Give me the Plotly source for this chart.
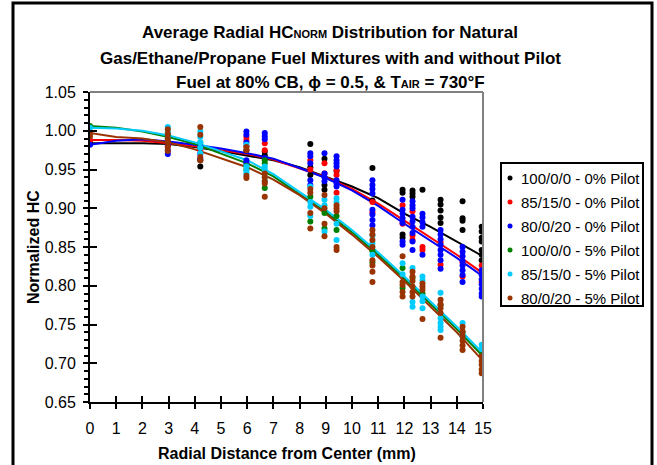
import plotly.graph_objects as go

# Radial measurement stations (mm from burner centre)
radial_mm = [0.0, 2.97, 4.21, 5.97, 6.67, 8.41, 8.95, 9.41, 10.78, 11.93, 12.31, 12.69, 13.38, 14.22, 14.95]

# Normalized HC samples at each station, one list per station
hc_100_0_0_p0 = [
    [0.984], [0.985], [0.954, 0.962], [0.975], [0.973, 0.968],
    [0.983, 0.953, 0.943], [0.964, 0.924, 0.930], [0.948], [0.952, 0.910],
    [0.924, 0.920, 0.866, 0.862], [0.923, 0.919, 0.915], [0.924],
    [0.911, 0.905, 0.897, 0.888, 0.881], [0.909, 0.887, 0.884, 0.872],
    [0.876, 0.870, 0.862, 0.857, 0.846, 0.840, 0.833],
]
hc_85_15_0_p0 = [
    [0.988], [0.985, 0.980], [0.975], [0.992, 0.988, 0.980], [0.984, 0.975],
    [0.962, 0.950], [0.958, 0.945], [0.949, 0.943, 0.920], [0.908, 0.895],
    [0.904, 0.880], [0.896, 0.859, 0.865], [0.850, 0.846],
    [0.856, 0.827], [0.830, 0.812], [0.826, 0.818, 0.805],
]
hc_80_0_20_p0 = [
    [0.982], [0.970, 0.975, 0.982], [0.964, 0.970, 0.980],
    [0.999, 0.995, 0.985, 0.962, 0.958], [0.997, 0.993, 0.989, 0.965],
    [0.971, 0.967, 0.958, 0.936, 0.930], [0.971, 0.945, 0.940, 0.935],
    [0.967, 0.962, 0.958, 0.954, 0.936, 0.932, 0.928],
    [0.936, 0.930, 0.925, 0.919, 0.898, 0.892, 0.885, 0.878],
    [0.911, 0.898, 0.893, 0.887, 0.881, 0.857, 0.853],
    [0.909, 0.904, 0.900, 0.889, 0.883, 0.876, 0.868, 0.857, 0.846],
    [0.893, 0.888, 0.882, 0.876, 0.840],
    [0.872, 0.866, 0.860, 0.853, 0.846, 0.840, 0.833, 0.822],
    [0.850, 0.844, 0.838, 0.832, 0.826, 0.820, 0.814, 0.805],
    [0.820, 0.814, 0.808, 0.802, 0.796, 0.790, 0.786],
]
hc_100_0_0_p5 = [
    [1.006], [0.995, 0.990], [0.985, 0.978], [0.955, 0.950], [0.962, 0.958, 0.926],
    [0.915, 0.883], [0.894, 0.874], [0.872, 0.890], [0.845, 0.830],
    [0.823, 0.797], [0.810], [0.790], [0.775], [0.740], [0.715],
]
hc_85_15_0_p5 = [
    [1.004], [1.005, 0.998, 0.990], [0.999, 0.992, 0.985, 0.978, 0.971],
    [0.982, 0.954, 0.948, 0.945], [0.954, 0.950, 0.940, 0.935],
    [0.928, 0.908, 0.902, 0.890], [0.911, 0.904, 0.870],
    [0.913, 0.908, 0.880, 0.859], [0.865, 0.855, 0.840],
    [0.829, 0.815], [0.823, 0.779, 0.773], [0.812, 0.807, 0.786, 0.780, 0.771],
    [0.791, 0.758, 0.752, 0.747, 0.743], [0.752, 0.735], [0.724, 0.718],
]
hc_80_0_20_p5 = [
    [0.997, 0.993], [1.002, 0.996, 0.990, 0.985, 0.979, 0.974],
    [1.005, 0.995, 0.966, 0.962], [0.979, 0.975, 0.942, 0.939],
    [0.945, 0.940, 0.935, 0.932, 0.915], [0.925, 0.920, 0.894, 0.874],
    [0.917, 0.900, 0.880, 0.864], [0.904, 0.900, 0.896, 0.850, 0.846],
    [0.872, 0.866, 0.859, 0.850, 0.833, 0.826, 0.818, 0.805],
    [0.838, 0.805, 0.801, 0.792, 0.786], [0.818, 0.812, 0.806, 0.799, 0.792, 0.786],
    [0.803, 0.799, 0.795, 0.757], [0.782, 0.776, 0.771, 0.765, 0.733],
    [0.747, 0.741, 0.735, 0.729, 0.723, 0.717], [0.709, 0.703, 0.698, 0.692, 0.687],
]

# Averaged radial profiles
avg_r = [0, 1, 2, 3, 4, 5, 6, 7, 8, 9, 10, 11, 12, 13, 14, 15]
avg_100_0_0_p0 = [0.984, 0.984, 0.984, 0.983, 0.979, 0.974, 0.968, 0.962, 0.953, 0.941, 0.928, 0.913, 0.893, 0.876, 0.857, 0.838]
avg_85_15_0_p0 = [0.988, 0.988, 0.987, 0.984, 0.980, 0.975, 0.970, 0.963, 0.952, 0.940, 0.925, 0.906, 0.884, 0.862, 0.840, 0.816]
avg_80_0_20_p0 = [0.982, 0.987, 0.989, 0.986, 0.982, 0.977, 0.971, 0.964, 0.952, 0.939, 0.923, 0.903, 0.880, 0.858, 0.836, 0.812]
avg_100_0_0_p5 = [1.006, 1.004, 0.999, 0.992, 0.983, 0.971, 0.958, 0.941, 0.918, 0.895, 0.869, 0.840, 0.809, 0.777, 0.744, 0.709]
avg_85_15_0_p5 = [1.004, 1.003, 1.000, 0.994, 0.985, 0.974, 0.962, 0.944, 0.921, 0.898, 0.872, 0.843, 0.812, 0.780, 0.747, 0.713]
avg_80_0_20_p5 = [0.997, 0.992, 0.990, 0.985, 0.976, 0.965, 0.953, 0.937, 0.917, 0.893, 0.866, 0.837, 0.806, 0.773, 0.740, 0.703]

labels = [
    "100/0/0 - 0% Pilot", "85/15/0 - 0% Pilot", "80/0/20 - 0% Pilot",
    "100/0/0 - 5% Pilot", "85/15/0 - 5% Pilot", "80/0/20 - 5% Pilot",
]
colors = ["#000000", "#FF0000", "#0000FF", "#008000", "#00CCFF", "#993300"]
samples = [hc_100_0_0_p0, hc_85_15_0_p0, hc_80_0_20_p0, hc_100_0_0_p5, hc_85_15_0_p5, hc_80_0_20_p5]
averages = [avg_100_0_0_p0, avg_85_15_0_p0, avg_80_0_20_p0, avg_100_0_0_p5, avg_85_15_0_p5, avg_80_0_20_p5]

FONT = "Arial, Liberation Sans, sans-serif"

# figure geometry (px)
W, H = 657, 465
ML, MR, MT, MB = 90, 174, 92, 63
PW, PH = W - ML - MR, H - MT - MB


def px_x(px):
    """horizontal pixel -> paper fraction"""
    return (px - ML) / PW


def px_y(py):
    """vertical pixel (from top) -> paper fraction"""
    return (H - MB - py) / PH


fig = go.Figure()

# average profile lines underneath the sample markers
for avg, col in zip(averages, colors):
    fig.add_trace(go.Scatter(
        x=avg_r, y=avg, mode="lines", line=dict(color=col, width=2),
        showlegend=False, hoverinfo="skip",
    ))

for name, col, per_station in zip(labels, colors, samples):
    xs, ys = [], []
    for r, vals in zip(radial_mm, per_station):
        xs += [r] * len(vals)
        ys += vals
    fig.add_trace(go.Scatter(
        x=xs, y=ys, mode="markers", name=name, showlegend=False,
        marker=dict(color=col, size=6, line=dict(width=0)),
    ))

# invisible helper trace so the inner tick marks get their own axes
fig.add_trace(go.Scatter(x=[None], y=[None], xaxis="x2", yaxis="y2", showlegend=False))

fig.update_layout(
    width=W, height=H,
    margin=dict(l=ML, r=MR, t=MT, b=MB, autoexpand=False),
    paper_bgcolor="white", plot_bgcolor="white",
    font=dict(family=FONT, size=16, color="black"),
    showlegend=False,
    xaxis=dict(
        range=[0, 15], dtick=1, tick0=0, showgrid=False, zeroline=False,
        showline=True, linecolor="black", linewidth=2,
        ticks="outside", ticklen=5, tickwidth=2, tickcolor="black",
        ticklabelstandoff=6,
        tickfont=dict(family=FONT, size=16, color="black"),
    ),
    yaxis=dict(
        range=[0.65, 1.05], dtick=0.05, tick0=0.65, tickformat=".2f",
        showgrid=False, zeroline=False,
        showline=True, linecolor="black", linewidth=2,
        ticks="outside", ticklen=5, tickwidth=2, tickcolor="black",
        minor=dict(dtick=0.01, ticks="outside", ticklen=4, tickwidth=1.5, tickcolor="black", showgrid=False),
        ticklabelstandoff=4,
        tickfont=dict(family=FONT, size=16, color="black"),
    ),
    xaxis2=dict(
        overlaying="x", matches="x", range=[0, 15], dtick=1, tick0=0,
        ticks="inside", ticklen=6, tickwidth=2, tickcolor="black",
        showticklabels=False, showgrid=False, zeroline=False, showline=False,
    ),
    yaxis2=dict(
        overlaying="y", matches="y", range=[0.65, 1.05], dtick=0.05, tick0=0.65,
        ticks="inside", ticklen=7, tickwidth=2, tickcolor="black",
        showticklabels=False, showgrid=False, zeroline=False, showline=False,
    ),
)

# grey top and right edges of the plot area
fig.add_shape(type="line", xref="x domain", yref="y domain", x0=0, x1=1, y0=1, y1=1,
              line=dict(color="#808080", width=2))
fig.add_shape(type="line", xref="x domain", yref="y domain", x0=1, x1=1, y0=0, y1=1,
              line=dict(color="#808080", width=2))
# outer chart frame (bottom edge runs past the page)
fig.add_shape(type="rect", xref="paper", yref="paper",
              x0=px_x(13), x1=px_x(652), y0=px_y(480), y1=px_y(3),
              line=dict(color="black", width=3), fillcolor="rgba(0,0,0,0)", layer="above")

# legend box with dot markers and labels
LEG_L, LEG_R, LEG_T, LEG_B = 501, 643, 163, 306
ROW0, ROW_STEP = 178, 24
fig.add_shape(type="rect", xref="paper", yref="paper",
              x0=px_x(LEG_L), x1=px_x(LEG_R), y0=px_y(LEG_B), y1=px_y(LEG_T),
              line=dict(color="black", width=2), fillcolor="white", layer="above")
for i, (name, col) in enumerate(zip(labels, colors)):
    row_y = px_y(ROW0 + i * ROW_STEP)
    fig.add_shape(type="circle", xref="paper", yref="paper",
                  xsizemode="pixel", ysizemode="pixel",
                  xanchor=px_x(510), yanchor=row_y, x0=-2.5, x1=2.5, y0=-2.5, y1=2.5,
                  line=dict(width=0), fillcolor=col, layer="above")
    fig.add_annotation(text=name, xref="paper", yref="paper", x=px_x(519), y=row_y,
                       xanchor="left", yanchor="middle", showarrow=False,
                       font=dict(family=FONT, size=15, color="black"))

small = "<span style='font-size:11px'>{}</span>"
title_lines = [
    "<b>Average Radial HC" + small.format("NORM") + " Distribution for Natural</b>",
    "<b>Gas/Ethane/Propane Fuel Mixtures with and without Pilot</b>",
    "<b>Fuel at 80% CB, \u03d5 = 0.5, &amp; T" + small.format("AIR") + " = 730\u00b0F</b>",
]
for txt, py in zip(title_lines, [33, 58, 82]):
    fig.add_annotation(text=txt, xref="paper", yref="paper", x=px_x(330), y=px_y(py),
                       xanchor="center", yanchor="middle", showarrow=False,
                       font=dict(family=FONT, size=17, color="black"))

fig.add_annotation(text="<b>Radial Distance from Center (mm)</b>", xref="paper", yref="paper",
                   x=0.5, y=px_y(453), xanchor="center", yanchor="middle", showarrow=False,
                   font=dict(family=FONT, size=16, color="black"))
fig.add_annotation(text="<b>Normalized HC</b>", xref="paper", yref="paper",
                   x=px_x(33), y=0.5, xanchor="center", yanchor="middle", textangle=-90,
                   showarrow=False, font=dict(family=FONT, size=16, color="black"))

fig.write_html("out.html")
